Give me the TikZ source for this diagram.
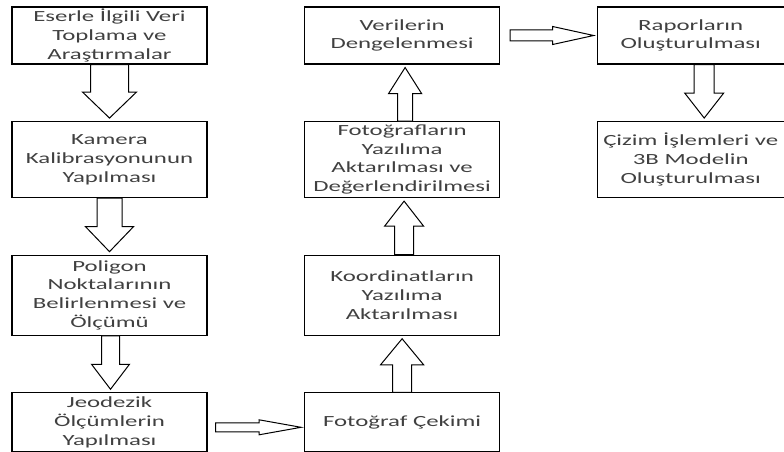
\documentclass[tikz,border=0pt]{standalone}
\usepackage{fontspec}
\setmainfont[FakeStretch=1.6]{Carlito}
\usetikzlibrary{positioning, calc}

\tikzset{
  box/.style={draw, line width=1.1pt, minimum width=195pt, minimum height=57pt,
    align=center, inner sep=2pt, text=black!75,
    font=\fontsize{15.5}{18.7}\selectfont},
  % block arrow: shaft half width / head half width / head length
  fat/.style args={#1/#2/#3}{line width=1pt, fill=white, to path={
      let \p1=($(\tikztotarget)-(\tikztostart)$),
          \n1={veclen(\x1,\y1)-3pt}, \n2={atan2(\y1,\x1)}
      in {[shift={(\tikztostart)}, rotate=\n2]
        (0pt,#1) -- (\n1*1pt-#3,#1) -- (\n1*1pt-#3,#2) -- (\n1*1pt,0pt)
        -- (\n1*1pt-#3,-#2) -- (\n1*1pt-#3,-#1) -- (0pt,-#1) -- cycle}}}
}

\begin{document}
\begin{tikzpicture}[x=1pt, y=-1pt, node distance=56.5pt and 96.5pt]
\useasboundingbox (0,0) rectangle (784,452);

\node[box] (eser) at (109.5,35.5) {Eserle İlgili Veri\\Toplama ve\\Araştırmalar};
\node[box, minimum height=76pt] (kamera) [below=of eser] {Kamera\\Kalibrasyonunun\\Yapılması};
\node[box, minimum height=80pt] (poligon) [below=of kamera] {Poligon\\Noktalarının\\Belirlenmesi ve\\Ölçümü};
\node[box, minimum height=59pt] (jeodezik) [below=of poligon] {Jeodezik\\Ölçümlerin\\Yapılması};

\node[box] (denge) [right=of eser] {Verilerin\\Dengelenmesi};
\node[box, minimum height=76pt] (fotoyaz) [below=of denge] {Fotoğrafların\\Yazılıma\\Aktarılması ve\\Değerlendirilmesi};
\node[box, minimum height=80pt] (koord) [below=of fotoyaz] {Koordinatların\\Yazılıma\\Aktarılması};
\node[box, minimum height=59pt] (cekim) [below=of koord] {Fotoğraf Çekimi};

\node[box, minimum width=187pt] (rapor) [right=of denge] {Raporların\\Oluşturulması};
\node[box, minimum width=187pt, minimum height=76pt] (cizim) [below=of rapor] {Çizim İşlemleri ve\\3B Modelin\\Oluşturulması};

% down the first column
\draw[fat=19pt/27pt/26pt] (eser.south) to (kamera.north);
\draw[fat=12.5pt/24pt/25pt] (kamera.south) to (poligon.north);
\draw[fat=9pt/19pt/25pt] ([xshift=1pt]poligon.south) to ([xshift=1pt]jeodezik.north);
\draw[fat=4.5pt/7.5pt/42pt] ([shift={(8pt,-5pt)}]jeodezik.east) to ([yshift=-5pt]cekim.west);

% up the second column
\draw[fat=9.5pt/21.5pt/26pt] (cekim.north) to (koord.south);
\draw[fat=9.5pt/19.5pt/25pt] ([xshift=2pt]koord.north) to ([xshift=2pt]fotoyaz.south);
\draw[fat=7.5pt/16.5pt/26pt] ([xshift=3pt]fotoyaz.north) to ([xshift=3pt]denge.south);
\draw[fat=5.5pt/9pt/41pt] ([xshift=10pt]denge.east) to (rapor.west);

% third column
\draw[fat=10pt/19.5pt/25pt] ([xshift=13.5pt]rapor.south) to ([xshift=13.5pt]cizim.north);
\end{tikzpicture}
\end{document}
